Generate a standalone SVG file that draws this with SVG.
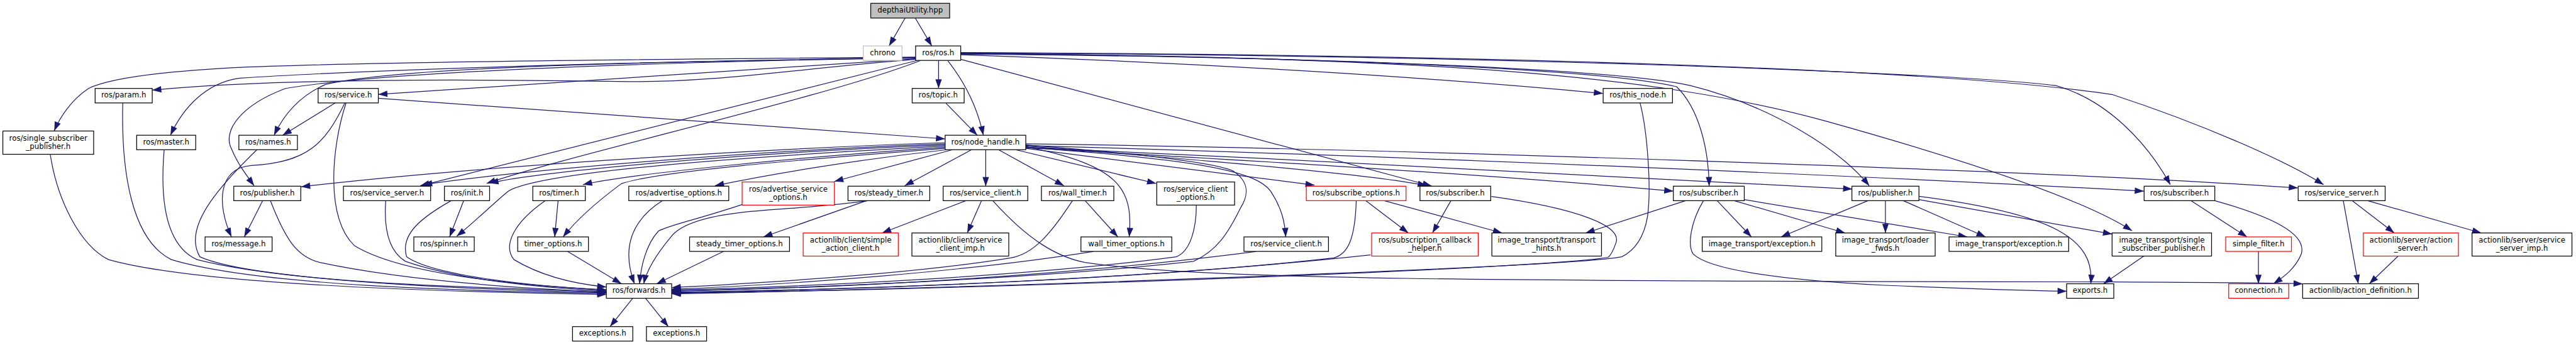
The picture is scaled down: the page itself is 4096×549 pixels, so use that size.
<svg xmlns="http://www.w3.org/2000/svg" width="4096" height="549" viewBox="0 0 4096 549">
<defs>
<marker id="a" viewBox="0 0 13.3 9.3" refX="15.2" refY="4.65" markerWidth="13.3" markerHeight="9.3" markerUnits="userSpaceOnUse" orient="auto" overflow="visible"><path d="M0,0 L13.3,4.65 L0,9.3 z" fill="#191970" stroke="#191970" stroke-width="1.35"/></marker>
</defs>
<style>
.node rect{fill:#ffffff;stroke:#000000;stroke-width:1.35}
.node.red rect{stroke:#ff0000}
.node.ext rect{stroke:#bfbfbf}
.node.root rect{fill:#bfbfbf}
.node text{font-family:"DejaVu Sans","Liberation Sans",sans-serif;font-size:13px;fill:#000000;text-anchor:middle}
#edges path{fill:none;stroke:#191970;stroke-width:1.35;marker-end:url(#a)}
</style>
<rect width="4096" height="549" fill="#ffffff"/>
<g transform="scale(0.908)">
<g id="edges">
<path d="M1585,31.6 L1557,80.5"/>
<path d="M1602.8,31.6 L1631.7,80.5"/>
<path d="M1643.6,106 L1643.6,155"/>
<path d="M1660,106.7 C1690,145 1712,190 1722,237"/>
<path d="M1656.6,181 L1711.3,237"/>
<path d="M1682.4,96 C2100,110 2500,135 2807,163.7"/>
<path d="M1682.4,104 L2507,326"/>
<path d="M1682.4,93 C2300,100 2800,120 2936,152 C2975,190 2992,260 2993,326"/>
<path d="M1682.4,95 C2400,100 2850,125 2960,150 C3100,185 3220,260 3273.4,325.5"/>
<path d="M1682.4,94 C2500,100 2900,130 3200,213 C3450,283 3650,350 3733.5,404.5"/>
<path d="M1682.4,93 C2500,95 3400,125 3600,150 C3690,175 3760,250 3800.6,323.6"/>
<path d="M1682.4,92 C2600,96 3400,120 3700,166 C3850,215 4000,280 4069,323.6"/>
<path d="M1603.4,100 C1000,105 600,110 400,119 C280,126 190,138 155,155 C125,175 105,205 95,229.3"/>
<path d="M1603.4,104 C1400,120 1250,145 1100,143 C900,140 500,135 266.6,158"/>
<path d="M1603.4,101 C1000,110 600,125 420,137 C360,145 320,190 298.5,237"/>
<path d="M1603.4,102 C1100,108 700,118 570,148 C520,170 495,205 480,237"/>
<path d="M1603.4,101 C1000,112 650,130 500,155 C420,185 390,230 405,260 C415,285 430,305 445,325.5"/>
<path d="M1603.4,103 L662.5,165.4"/>
<path d="M1606,106 L736,325.5"/>
<path d="M1612,106 C1450,170 1000,270 852,321.6"/>
<path d="M1655.1,250 C1300,262 800,295 527.3,327.4"/>
<path d="M1655.1,252 C1300,265 900,300 741,323.6"/>
<path d="M1655.1,254 C1300,268 950,300 857,321"/>
<path d="M1655.1,256 C1300,275 950,300 890,335 C860,360 830,390 799.7,414"/>
<path d="M1655.1,258 C1400,275 1100,305 1021,323.6"/>
<path d="M1655.1,260 C1400,280 1150,300 1088,322 C1050,350 1010,385 986,415.2"/>
<path d="M1658,262.4 C1500,280 1350,305 1252,325.5"/>
<path d="M1668,262.4 L1461,318"/>
<path d="M1701.3,262.4 L1584.4,325.5"/>
<path d="M1726.2,262.4 L1726.2,326.3"/>
<path d="M1748.6,262.4 L1863,325.5"/>
<path d="M1778.4,262.4 L2024.6,321.6"/>
<path d="M1796.3,257 C1960,290 1985,330 1977.4,415.2"/>
<path d="M1796.3,254 C2000,270 2130,285 2160,300 C2190,320 2185,345 2172,365 C2150,410 2130,440 2090,458 C1800,490 1400,505 1176.2,510"/>
<path d="M1796.3,258 C2100,280 2200,300 2225,335 C2245,365 2250,390 2251.5,415.2"/>
<path d="M1796.3,260 L2302,324.5"/>
<path d="M1796.3,256 C2100,280 2400,305 2498.5,325.5"/>
<path d="M1796.3,259 C2200,282 2600,305 2930.3,335"/>
<path d="M1796.3,258 C2300,282 2900,310 3243.5,331.3"/>
<path d="M1796.3,255 C2500,275 3300,310 3754.2,335"/>
<path d="M1796.3,252 C2500,262 3600,300 4024,329.3"/>
<path d="M587,180.4 L495,237"/>
<path d="M604,180.4 C570,250 540,285 440,290 C380,295 380,360 405.4,415.2"/>
<path d="M606,180.4 C580,260 570,380 620,430 C700,480 900,500 1061.8,508"/>
<path d="M662.5,172.2 L1655,243.4"/>
<path d="M460,351.7 L427.8,415.2"/>
<path d="M473.5,351.7 C500,420 520,450 560,460 C700,490 900,505 1061.8,512"/>
<path d="M88,270.4 C100,350 140,430 190,455 C350,500 800,512 1061.8,516"/>
<path d="M215,180.4 C212,300 230,420 300,455 C450,500 800,510 1061.8,514"/>
<path d="M287.5,262.4 C280,350 290,430 345,455 C500,495 850,508 1061.8,513"/>
<path d="M450,262.4 C380,330 320,400 350,450 C450,495 850,505 1061.8,511"/>
<path d="M675.5,351.7 C672,400 680,440 710,458 C800,490 950,505 1061.8,510"/>
<path d="M790,351.7 C740,380 700,410 712,450 C760,485 950,503 1061.8,508"/>
<path d="M812,351.7 L787.3,415.2"/>
<path d="M955,351.7 C900,390 880,430 900,455 C950,485 1010,498 1061.8,503"/>
<path d="M977.3,351.7 L971.3,415.2"/>
<path d="M993.7,440.6 L1088.2,497.3"/>
<path d="M1160,351.7 C1100,390 1090,440 1111,497.3"/>
<path d="M1300,358.3 C1220,385 1170,395 1153,405 C1130,430 1122,470 1120,497.3"/>
<path d="M1520,351.7 C1450,362 1370,365 1300,372 C1230,380 1190,395 1175,415 C1150,445 1132,475 1127.3,497.3"/>
<path d="M1517.3,351.7 L1336.9,415.2"/>
<path d="M1267.2,440.6 L1150,497.3"/>
<path d="M1108,522.7 L1068.3,572.4"/>
<path d="M1130.5,522.7 L1170.3,572.4"/>
<path d="M1691.4,351.7 L1544.7,408.3"/>
<path d="M1718.8,351.7 L1693.9,408.3"/>
<path d="M1738.6,351.7 C1800,420 1850,450 1900,460 C2100,490 2600,493 3700,494 C3900,495 4000,496 4032.3,497.5"/>
<path d="M1878,351.7 C1840,410 1810,445 1770,452 C1600,480 1350,495 1176.2,504"/>
<path d="M1900.3,351.7 L1957.5,415.2"/>
<path d="M1915,440.6 C1700,475 1400,498 1176.2,507"/>
<path d="M2095,359.4 C2095,400 2085,440 2060,450 C1800,485 1400,503 1176.2,508"/>
<path d="M2200,440.6 C1900,480 1500,505 1176.2,510"/>
<path d="M2375,351.7 C2373,420 2360,445 2336,452 C2000,490 1500,508 1176.2,512"/>
<path d="M2391.6,351.7 L2466.2,408.3"/>
<path d="M2424,351.7 L2630.4,408.3"/>
<path d="M2540.8,351.7 L2508.5,408.3"/>
<path d="M2611.7,344.3 C2760,365 2840,395 2830,425 C2825,440 2820,448 2816,451 C2700,470 1800,505 1176.2,514"/>
<path d="M2872,180.4 C2885,230 2892,330 2885,380 C2878,420 2860,440 2840,450 C2750,468 1700,505 1176.2,515"/>
<path d="M2400,446.7 C2000,490 1500,508 1176.2,513"/>
<path d="M2951.7,351.7 L2776.7,408.3"/>
<path d="M2983,351.7 C2960,390 2955,430 2965,445 C2990,470 3100,490 3300,500 C3450,506 3550,509 3619,510.4"/>
<path d="M3007,351.7 L3067,415.2"/>
<path d="M3037,351.7 L3231,408.3"/>
<path d="M3054.5,349.8 L3445,415.2"/>
<path d="M3271,351.7 L3119,415.2"/>
<path d="M3301.7,351.7 L3301.7,408.3"/>
<path d="M3333,351.7 L3477,415.2"/>
<path d="M3360.4,349.8 L3698.6,410.2"/>
<path d="M3360.4,344 C3600,375 3668,420 3661.3,497.3"/>
<path d="M3754.2,448.8 L3683.7,497.3"/>
<path d="M3836.7,351.7 L3934.8,415.2"/>
<path d="M3878.5,351.7 C3980,380 4040,410 4030,445 C4020,470 4000,485 3981.2,497.3"/>
<path d="M3954.9,440.6 L3954.9,497.3"/>
<path d="M4103.5,351.7 L4129.8,497.3"/>
<path d="M4119,351.7 L4192.8,408.3"/>
<path d="M4146.3,351.7 L4345,408.3"/>
<path d="M4199.5,448.8 L4149,497.3"/>
</g>
<g id="n1" class="node root"><rect x="1524.8" y="5.8" width="138.2" height="25.8"/><text x="1593.9" y="22.2">depthaiUtility.hpp</text></g>
<g id="n2" class="node ext"><rect x="1511.8" y="80.5" width="67.7" height="25.4"/><text x="1545.65" y="96.7">chrono</text></g>
<g id="n3" class="node"><rect x="1603.4" y="80.5" width="79" height="25.4"/><text x="1642.9" y="96.7">ros/ros.h</text></g>
<g id="n4" class="node"><rect x="166.6" y="155" width="100" height="25.4"/><text x="216.6" y="171.2">ros/param.h</text></g>
<g id="n5" class="node"><rect x="557.1" y="155" width="105.4" height="25.4"/><text x="609.8" y="171.2">ros/service.h</text></g>
<g id="n6" class="node"><rect x="1597.4" y="155" width="91" height="25.4"/><text x="1642.9" y="171.2">ros/topic.h</text></g>
<g id="n7" class="node"><rect x="2807.4" y="155" width="121.4" height="25.4"/><text x="2868.1" y="171.2">ros/this_node.h</text></g>
<g id="n8" class="node"><rect x="5" y="229.6" width="159" height="40.8"/><text x="84.5" y="246.5">ros/single_subscriber</text><text x="84.5" y="260.5">_publisher.h</text></g>
<g id="n9" class="node"><rect x="239.3" y="237" width="103.4" height="25.4"/><text x="291" y="253.2">ros/master.h</text></g>
<g id="n10" class="node"><rect x="418.3" y="237" width="102.5" height="25.4"/><text x="469.55" y="253.2">ros/names.h</text></g>
<g id="n11" class="node"><rect x="1655.1" y="237" width="141.2" height="25.4"/><text x="1725.7" y="253.2">ros/node_handle.h</text></g>
<g id="n12" class="node"><rect x="409.4" y="326.3" width="117.3" height="25.4"/><text x="468.05" y="342.5">ros/publisher.h</text></g>
<g id="n13" class="node"><rect x="601.4" y="326.3" width="152.7" height="25.4"/><text x="677.75" y="342.5">ros/service_server.h</text></g>
<g id="n14" class="node"><rect x="778.3" y="326.3" width="79.1" height="25.4"/><text x="817.85" y="342.5">ros/init.h</text></g>
<g id="n15" class="node"><rect x="933" y="326.3" width="92" height="25.4"/><text x="979" y="342.5">ros/timer.h</text></g>
<g id="n16" class="node"><rect x="1101.1" y="326.3" width="175.1" height="25.4"/><text x="1188.65" y="342.5">ros/advertise_options.h</text></g>
<g id="n17" class="node red"><rect x="1299.6" y="318.9" width="161.6" height="40.5"/><text x="1380.4" y="335.7">ros/advertise_service</text><text x="1380.4" y="349.7">_options.h</text></g>
<g id="n18" class="node"><rect x="1485" y="326.3" width="143.2" height="25.4"/><text x="1556.6" y="342.5">ros/steady_timer.h</text></g>
<g id="n19" class="node"><rect x="1651.6" y="326.3" width="148.2" height="25.4"/><text x="1725.7" y="342.5">ros/service_client.h</text></g>
<g id="n20" class="node"><rect x="1823.7" y="326.3" width="126.8" height="25.4"/><text x="1887.1" y="342.5">ros/wall_timer.h</text></g>
<g id="n21" class="node"><rect x="2025.7" y="318.9" width="136.3" height="40.5"/><text x="2093.85" y="335.7">ros/service_client</text><text x="2093.85" y="349.7">_options.h</text></g>
<g id="n22" class="node red"><rect x="2287.6" y="326.3" width="174.6" height="25.4"/><text x="2374.9" y="342.5">ros/subscribe_options.h</text></g>
<g id="n23" class="node"><rect x="2486.6" y="326.3" width="123.9" height="25.4"/><text x="2548.55" y="342.5">ros/subscriber.h</text></g>
<g id="n24" class="node"><rect x="2930.3" y="326.3" width="124.2" height="25.4"/><text x="2992.4" y="342.5">ros/subscriber.h</text></g>
<g id="n25" class="node"><rect x="3243" y="326.3" width="117.4" height="25.4"/><text x="3301.7" y="342.5">ros/publisher.h</text></g>
<g id="n26" class="node"><rect x="3754.7" y="326.3" width="123.8" height="25.4"/><text x="3816.6" y="342.5">ros/subscriber.h</text></g>
<g id="n27" class="node"><rect x="4024.5" y="326.3" width="152.3" height="25.4"/><text x="4100.65" y="342.5">ros/service_server.h</text></g>
<g id="n28" class="node"><rect x="359.1" y="415.2" width="117.4" height="25.4"/><text x="417.8" y="431.4">ros/message.h</text></g>
<g id="n29" class="node"><rect x="724.7" y="415.2" width="105.8" height="25.4"/><text x="777.6" y="431.4">ros/spinner.h</text></g>
<g id="n30" class="node"><rect x="906.6" y="415.2" width="123.9" height="25.4"/><text x="968.55" y="431.4">timer_options.h</text></g>
<g id="n31" class="node"><rect x="1207.6" y="415.2" width="175" height="25.4"/><text x="1295.1" y="431.4">steady_timer_options.h</text></g>
<g id="n32" class="node red"><rect x="1406.5" y="408.3" width="166.5" height="40.5"/><text x="1489.75" y="425.1">actionlib/client/simple</text><text x="1489.75" y="439.1">_action_client.h</text></g>
<g id="n33" class="node"><rect x="1596.9" y="408.3" width="169.6" height="40.5"/><text x="1681.7" y="425.1">actionlib/client/service</text><text x="1681.7" y="439.1">_client_imp.h</text></g>
<g id="n34" class="node"><rect x="1892.9" y="415.2" width="159.1" height="25.4"/><text x="1972.45" y="431.4">wall_timer_options.h</text></g>
<g id="n35" class="node"><rect x="2178.4" y="415.2" width="148" height="25.4"/><text x="2252.4" y="431.4">ros/service_client.h</text></g>
<g id="n36" class="node red"><rect x="2402" y="408.3" width="186.6" height="40.5"/><text x="2495.3" y="425.1">ros/subscription_callback</text><text x="2495.3" y="439.1">_helper.h</text></g>
<g id="n37" class="node"><rect x="2612.5" y="408.3" width="192" height="40.5"/><text x="2708.5" y="425.1">image_transport/transport</text><text x="2708.5" y="439.1">_hints.h</text></g>
<g id="n38" class="node"><rect x="2980.9" y="415.2" width="209.4" height="25.4"/><text x="3085.6" y="431.4">image_transport/exception.h</text></g>
<g id="n39" class="node"><rect x="3214.7" y="408.3" width="174.1" height="40.5"/><text x="3301.75" y="425.1">image_transport/loader</text><text x="3301.75" y="439.1">_fwds.h</text></g>
<g id="n40" class="node"><rect x="3413.1" y="415.2" width="209.5" height="25.4"/><text x="3517.85" y="431.4">image_transport/exception.h</text></g>
<g id="n41" class="node"><rect x="3698.6" y="408.3" width="174.2" height="40.5"/><text x="3785.7" y="425.1">image_transport/single</text><text x="3785.7" y="439.1">_subscriber_publisher.h</text></g>
<g id="n42" class="node red"><rect x="3897.6" y="415.2" width="115.1" height="25.4"/><text x="3955.15" y="431.4">simple_filter.h</text></g>
<g id="n43" class="node red"><rect x="4138.6" y="408.3" width="166.6" height="40.5"/><text x="4221.9" y="425.1">actionlib/server/action</text><text x="4221.9" y="439.1">_server.h</text></g>
<g id="n44" class="node"><rect x="4329" y="408.3" width="174.9" height="40.5"/><text x="4416.45" y="425.1">actionlib/server/service</text><text x="4416.45" y="439.1">_server_imp.h</text></g>
<g id="n45" class="node"><rect x="1061.8" y="497.3" width="114.4" height="25.4"/><text x="1119" y="513.5">ros/forwards.h</text></g>
<g id="n46" class="node"><rect x="3619" y="497.3" width="82.6" height="25.4"/><text x="3660.3" y="513.5">exports.h</text></g>
<g id="n47" class="node red"><rect x="3902.8" y="497.3" width="105.2" height="25.4"/><text x="3955.4" y="513.5">connection.h</text></g>
<g id="n48" class="node"><rect x="4032.3" y="497.3" width="202.8" height="25.4"/><text x="4133.7" y="513.5">actionlib/action_definition.h</text></g>
<g id="n49" class="node"><rect x="1002.6" y="572.4" width="105.5" height="25.4"/><text x="1055.35" y="588.6">exceptions.h</text></g>
<g id="n50" class="node"><rect x="1132" y="572.4" width="105.4" height="25.4"/><text x="1184.7" y="588.6">exceptions.h</text></g>
</g>
</svg>
